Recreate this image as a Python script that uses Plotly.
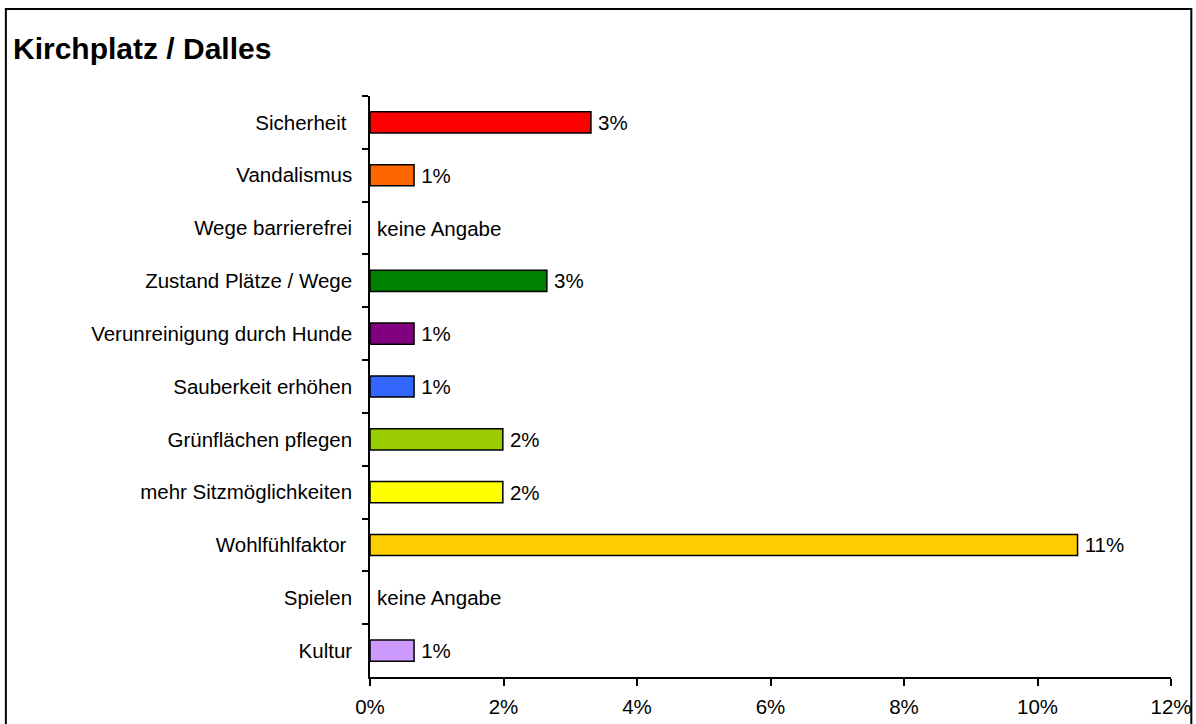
import plotly.graph_objects as go

title = "Kirchplatz / Dalles"
categories = [
    "Sicherheit\u00a0",
    "Vandalismus",
    "Wege barrierefrei",
    "Zustand Plätze / Wege",
    "Verunreinigung durch Hunde",
    "Sauberkeit erhöhen",
    "Grünflächen pflegen",
    "mehr Sitzmöglichkeiten",
    "Wohlfühlfaktor\u00a0",
    "Spielen",
    "Kultur",
]
values = [3.31, 0.66, 0.0, 2.65, 0.66, 0.66, 1.99, 1.99, 10.6, 0.0, 0.66]
colors = ["#FF0000", "#FF6600", "#FFFFFF", "#008000", "#800080", "#3366FF",
          "#99CC00", "#FFFF00", "#FFCC00", "#FFFFFF", "#CC99FF"]
no_answer = "keine Angabe"
x_ticks = [0, 2, 4, 6, 8, 10, 12]

labels = ["\u2009" + (f"{round(v):.0f}%" if v > 0 else no_answer) for v in values]
line_w = [1.5 if v > 0 else 0 for v in values]

FONT = "Liberation Sans, Arial, sans-serif"
FS = 20.5

fig = go.Figure(go.Bar(
    x=values, y=categories, orientation="h",
    marker=dict(color=colors, line=dict(color="black", width=line_w)),
    width=0.4,
    text=labels, textposition="outside", cliponaxis=False,
    textfont=dict(size=FS, color="black", family=FONT),
    constraintext="none",
    hoverinfo="x+y",
))

W, H = 1196, 724
L, R, T, B = 370, 25.3, 96, 47
pw, ph = W - L - R, H - T - B

def px_to_paper_x(px):
    return (px - L) / pw

def px_to_paper_y(py):
    return (H - B - py) / ph

fig.update_layout(
    width=W, height=H,
    margin=dict(l=L, r=R, t=T, b=B, autoexpand=False),
    paper_bgcolor="white", plot_bgcolor="white",
    font=dict(family=FONT, size=FS, color="black"),
    showlegend=False,
    title=dict(text=f"<b>{title}</b>", font=dict(size=30, color="black", family=FONT),
               x=13 / W, xref="container", xanchor="left",
               y=1 - 48 / H, yref="container", yanchor="middle"),
    xaxis=dict(range=[0, 12], tickvals=x_ticks, ticktext=[f"{t}%" for t in x_ticks],
               showgrid=False, zeroline=False, showline=True, linecolor="black",
               linewidth=1.5, ticks="outside", ticklen=7, tickwidth=1.5, tickcolor="black",
               tickfont=dict(size=FS), ticklabelstandoff=4, automargin=False,
               fixedrange=True),
    yaxis=dict(type="category", categoryorder="array", categoryarray=categories,
               autorange="reversed", tickson="boundaries", showgrid=False,
               showline=True, linecolor="black", linewidth=1.5,
               ticks="outside", ticklen=6, tickwidth=1.5, tickcolor="black",
               tickfont=dict(size=FS), ticklabelstandoff=12, automargin=False,
               fixedrange=True),
    bargap=0.6,
    shapes=[dict(type="rect", xref="paper", yref="paper",
                 x0=px_to_paper_x(6), x1=px_to_paper_x(1191),
                 y0=px_to_paper_y(740), y1=px_to_paper_y(9),
                 line=dict(color="black", width=2), fillcolor="rgba(0,0,0,0)",
                 layer="above")],
)

fig.write_html("out.html")
